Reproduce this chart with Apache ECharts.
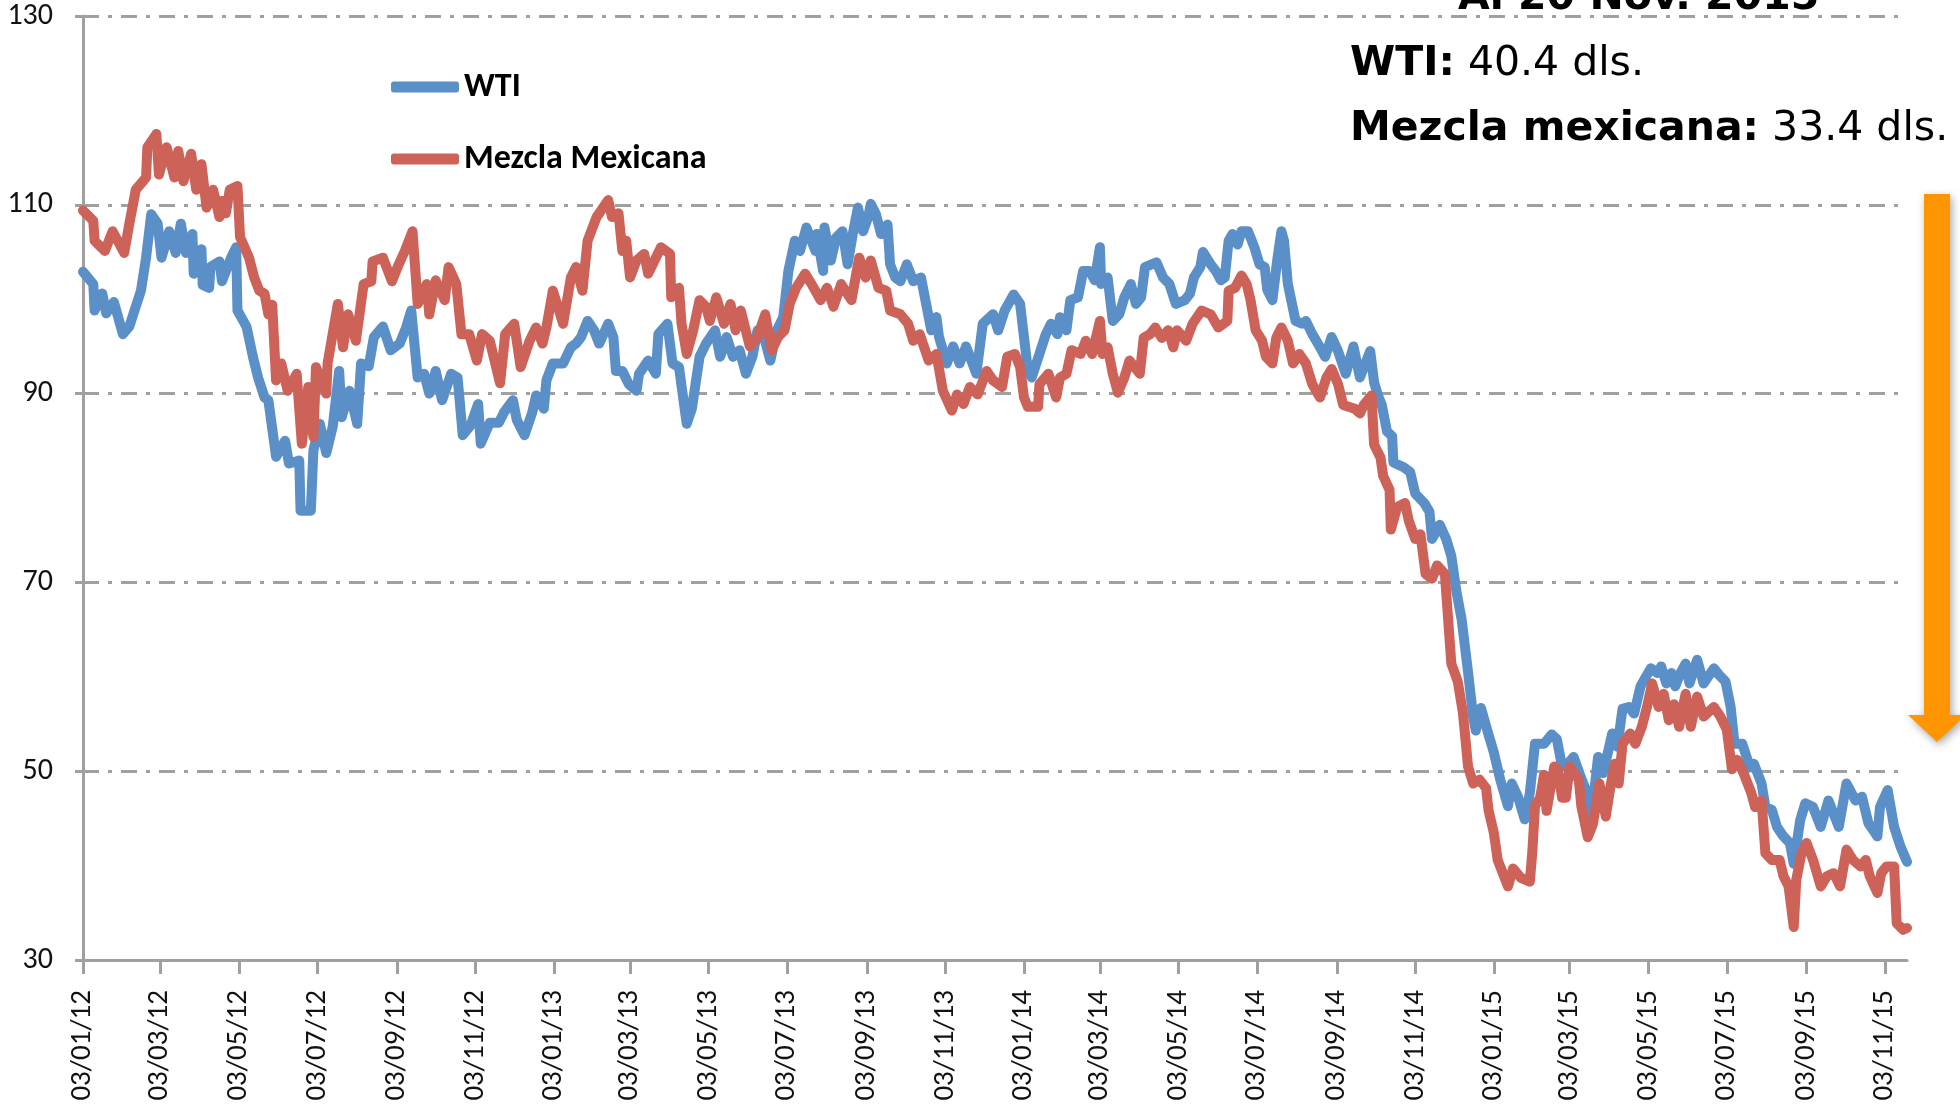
<!DOCTYPE html>
<html>
<head>
<meta charset="utf-8">
<title>WTI y Mezcla Mexicana</title>
<script src="https://cdn.jsdelivr.net/npm/echarts@6/dist/echarts.min.js"></script>
<style>
  html, body { margin: 0; padding: 0; background: #fff; }
  #chart { width: 1960px; height: 1115px; }
</style>
</head>
<body>
<div id="chart"></div>
<script>
// tick marks on the date axis (every two months, day 03)
var tickDates = ['2012-01-03', '2012-03-03', '2012-05-03', '2012-07-03', '2012-09-03', '2012-11-03',
  '2013-01-03', '2013-03-03', '2013-05-03', '2013-07-03', '2013-09-03', '2013-11-03',
  '2014-01-03', '2014-03-03', '2014-05-03', '2014-07-03', '2014-09-03', '2014-11-03',
  '2015-01-03', '2015-03-03', '2015-05-03', '2015-07-03', '2015-09-03', '2015-11-03']
var yTicks = [30, 50, 70, 90, 110, 130]

// WTI (dls. por barril)
var wtiDates = ['2012-01-03', '2012-01-11', '2012-01-12', '2012-01-18', '2012-01-21', '2012-01-27', '2012-02-03', '2012-02-08',
  '2012-02-12', '2012-02-17', '2012-02-21', '2012-02-25', '2012-03-01', '2012-03-04', '2012-03-10', '2012-03-15', '2012-03-19',
  '2012-03-23', '2012-03-28', '2012-03-29', '2012-04-04', '2012-04-05', '2012-04-10', '2012-04-11', '2012-04-18', '2012-04-20',
  '2012-04-27', '2012-05-01', '2012-05-02', '2012-05-09', '2012-05-14', '2012-05-18', '2012-05-23', '2012-05-26', '2012-06-01',
  '2012-06-08', '2012-06-11', '2012-06-19', '2012-06-20', '2012-06-28', '2012-06-30', '2012-07-05', '2012-07-10', '2012-07-15',
  '2012-07-20', '2012-07-22', '2012-07-28', '2012-08-03', '2012-08-06', '2012-08-12', '2012-08-16', '2012-08-23', '2012-08-29',
  '2012-09-05', '2012-09-10', '2012-09-14', '2012-09-19', '2012-09-24', '2012-09-28', '2012-10-03', '2012-10-08', '2012-10-15',
  '2012-10-20', '2012-10-24', '2012-10-30', '2012-11-05', '2012-11-07', '2012-11-14', '2012-11-21', '2012-11-25', '2012-12-02',
  '2012-12-05', '2012-12-11', '2012-12-17', '2012-12-20', '2012-12-26', '2012-12-28',
  '2013-01-02', '2013-01-10', '2013-01-16', '2013-01-20', '2013-01-24', '2013-01-29', '2013-02-03', '2013-02-07', '2013-02-14',
  '2013-02-18', '2013-02-20', '2013-02-25', '2013-03-02', '2013-03-08', '2013-03-10', '2013-03-17', '2013-03-23', '2013-03-25',
  '2013-04-01', '2013-04-05', '2013-04-10', '2013-04-16', '2013-04-20', '2013-04-26', '2013-05-01', '2013-05-08', '2013-05-12',
  '2013-05-17', '2013-05-22', '2013-05-27', '2013-06-01', '2013-06-06', '2013-06-10', '2013-06-15', '2013-06-20', '2013-06-25',
  '2013-06-30', '2013-07-04', '2013-07-09', '2013-07-13', '2013-07-18', '2013-07-25', '2013-07-26', '2013-07-31', '2013-08-01',
  '2013-08-06', '2013-08-10', '2013-08-15', '2013-08-19', '2013-08-23', '2013-08-27', '2013-08-31', '2013-09-04', '2013-09-06',
  '2013-09-10', '2013-09-14', '2013-09-19', '2013-09-21', '2013-09-25', '2013-09-29', '2013-10-04', '2013-10-09', '2013-10-15',
  '2013-10-19', '2013-10-23', '2013-10-27', '2013-10-29', '2013-11-04', '2013-11-09', '2013-11-14', '2013-11-19', '2013-11-24',
  '2013-11-27', '2013-12-02', '2013-12-10', '2013-12-14', '2013-12-19', '2013-12-26', '2013-12-31',
  '2014-01-06', '2014-01-09', '2014-01-15', '2014-01-20', '2014-01-24', '2014-01-29', '2014-01-31', '2014-02-05', '2014-02-08',
  '2014-02-14', '2014-02-18', '2014-02-23', '2014-02-27', '2014-03-03', '2014-03-04', '2014-03-09', '2014-03-13', '2014-03-18',
  '2014-03-22', '2014-03-27', '2014-03-31', '2014-04-04', '2014-04-07', '2014-04-16', '2014-04-21', '2014-04-26', '2014-05-01',
  '2014-05-08', '2014-05-12', '2014-05-15', '2014-05-20', '2014-05-22', '2014-05-28', '2014-06-01', '2014-06-05', '2014-06-08',
  '2014-06-11', '2014-06-14', '2014-06-18', '2014-06-21', '2014-06-26', '2014-07-01', '2014-07-05', '2014-07-09', '2014-07-11',
  '2014-07-15', '2014-07-19', '2014-07-22', '2014-07-24', '2014-07-27', '2014-08-02', '2014-08-07', '2014-08-10', '2014-08-15',
  '2014-08-21', '2014-08-25', '2014-08-30', '2014-09-04', '2014-09-10', '2014-09-16', '2014-09-21', '2014-09-29', '2014-10-02',
  '2014-10-05', '2014-10-08', '2014-10-12', '2014-10-16', '2014-10-17', '2014-10-25', '2014-10-30', '2014-11-03', '2014-11-10',
  '2014-11-14', '2014-11-16', '2014-11-22', '2014-11-27', '2014-12-01', '2014-12-05', '2014-12-09', '2014-12-14', '2014-12-18',
  '2014-12-20', '2014-12-24', '2014-12-29',
  '2015-01-03', '2015-01-08', '2015-01-14', '2015-01-17', '2015-01-22', '2015-01-27', '2015-01-31', '2015-02-04', '2015-02-11',
  '2015-02-17', '2015-02-21', '2015-02-25', '2015-02-28', '2015-03-06', '2015-03-11', '2015-03-15', '2015-03-18', '2015-03-20',
  '2015-03-25', '2015-03-29', '2015-04-05', '2015-04-09', '2015-04-13', '2015-04-18', '2015-04-22', '2015-04-27', '2015-05-05',
  '2015-05-10', '2015-05-13', '2015-05-17', '2015-05-21', '2015-05-24', '2015-05-28', '2015-06-01', '2015-06-04', '2015-06-10',
  '2015-06-15', '2015-06-23', '2015-06-27', '2015-07-02', '2015-07-06', '2015-07-09', '2015-07-15', '2015-07-21', '2015-07-24',
  '2015-07-30', '2015-08-02', '2015-08-07', '2015-08-11', '2015-08-16', '2015-08-21', '2015-08-24', '2015-08-29', '2015-09-02',
  '2015-09-08', '2015-09-14', '2015-09-20', '2015-09-28', '2015-10-04', '2015-10-11', '2015-10-16', '2015-10-21', '2015-10-28',
  '2015-10-30', '2015-11-05', '2015-11-10', '2015-11-15', '2015-11-20']
var wti = [102.9, 101.6, 98.8, 100.6, 98.5, 99.7, 96.3, 97.1,
  98.8, 100.9, 104.4, 109.0, 108.0, 104.4, 107.2, 104.9, 108.0,
  104.9, 106.9, 102.7, 105.3, 101.5, 101.2, 103.4, 104.0, 101.9,
  104.4, 105.5, 98.8, 97.1, 93.9, 91.7, 89.6, 89.3, 83.3,
  85.0, 82.6, 82.9, 77.6, 77.6, 84.0, 86.8, 83.7, 86.5,
  92.4, 87.5, 90.3, 86.8, 93.2, 92.9, 96.0, 97.1, 94.6,
  95.3, 97.0, 98.8, 91.7, 92.1, 90.0, 92.4, 89.3, 92.1,
  91.7, 85.6, 86.6, 88.9, 84.7, 86.9, 86.9, 88.0, 89.3,
  87.2, 85.6, 88.0, 89.8, 88.4, 91.4,
  93.2, 93.2, 94.9, 95.3, 96.0, 97.7, 96.7, 95.3, 97.4,
  96.0, 92.4, 92.4, 91.0, 90.3, 92.1, 93.5, 92.1, 96.3,
  97.4, 93.2, 92.8, 86.8, 88.4, 93.9, 95.3, 96.7, 93.9,
  96.0, 93.9, 94.6, 92.1, 93.9, 96.7, 96.0, 93.5, 96.7,
  98.1, 103.0, 106.2, 105.1, 107.6, 105.1, 106.9, 103.0, 107.6,
  104.1, 106.5, 107.2, 103.7, 106.9, 109.7, 107.2, 108.7, 110.1,
  109.0, 106.9, 107.9, 103.7, 102.3, 101.9, 103.7, 101.9, 102.3,
  99.5, 96.7, 98.1, 96.0, 93.2, 95.0, 93.2, 95.0, 93.2,
  92.1, 97.4, 98.4, 96.7, 98.8, 100.5, 99.5,
  92.5, 91.7, 94.2, 96.3, 97.4, 96.3, 98.1, 96.7, 99.9,
  100.2, 103.0, 103.0, 102.0, 105.5, 101.6, 102.3, 97.7, 98.4,
  100.2, 101.6, 99.5, 100.2, 103.4, 103.9, 102.3, 101.6, 99.5,
  99.9, 100.6, 102.3, 103.4, 105.0, 103.7, 103.0, 102.0, 102.3,
  106.2, 106.9, 105.8, 107.2, 107.2, 105.5, 103.7, 103.4, 101.0,
  99.9, 104.4, 107.2, 106.2, 101.6, 97.7, 97.4, 97.7, 96.3,
  94.9, 93.9, 96.0, 94.5, 92.1, 95.0, 91.7, 94.5, 91.2,
  89.8, 88.8, 86.0, 85.5, 82.7, 82.2, 81.7, 79.4, 78.4,
  77.5, 74.6, 76.1, 74.6, 72.8, 69.0, 66.1, 60.5, 55.7,
  54.3, 56.7, 54.3,
  52.0, 49.1, 46.3, 48.7, 47.2, 44.9, 47.7, 52.9, 52.9,
  53.9, 53.4, 50.5, 50.5, 51.5, 49.6, 48.2, 46.2, 45.4,
  51.5, 49.8, 54.0, 52.6, 56.6, 56.8, 56.1, 59.0, 60.9,
  60.4, 61.1, 59.3, 60.4, 59.0, 60.4, 61.4, 59.3, 61.8,
  59.3, 60.9, 60.2, 59.5, 56.8, 52.9, 52.9, 50.4, 50.8,
  48.7, 46.2, 45.9, 44.1, 43.1, 42.4, 40.2, 44.8, 46.6,
  46.2, 44.1, 46.9, 44.1, 48.7, 46.9, 47.3, 44.5, 43.1,
  46.2, 48.0, 44.1, 42.0, 40.4]

// Mezcla Mexicana (dls. por barril)
var mezclaDates = ['2012-01-03', '2012-01-11', '2012-01-12', '2012-01-20', '2012-01-26', '2012-02-04', '2012-02-08', '2012-02-13',
  '2012-02-21', '2012-02-22', '2012-02-29', '2012-03-02', '2012-03-08', '2012-03-14', '2012-03-17', '2012-03-21', '2012-03-27',
  '2012-03-31', '2012-04-04', '2012-04-08', '2012-04-13', '2012-04-18', '2012-04-20', '2012-04-23', '2012-04-26', '2012-05-02',
  '2012-05-04', '2012-05-11', '2012-05-15', '2012-05-19', '2012-05-23', '2012-05-26', '2012-05-29', '2012-06-01', '2012-06-05',
  '2012-06-10', '2012-06-17', '2012-06-21', '2012-06-26', '2012-06-30', '2012-07-02', '2012-07-10', '2012-07-11', '2012-07-19',
  '2012-07-23', '2012-07-27', '2012-08-02', '2012-08-08', '2012-08-14', '2012-08-15', '2012-08-23', '2012-08-30', '2012-09-04',
  '2012-09-09', '2012-09-15', '2012-09-19', '2012-09-26', '2012-09-28', '2012-10-03', '2012-10-10', '2012-10-13', '2012-10-19',
  '2012-10-23', '2012-10-29', '2012-11-04', '2012-11-08', '2012-11-14', '2012-11-22', '2012-11-26', '2012-12-03', '2012-12-08',
  '2012-12-15', '2012-12-20', '2012-12-25', '2012-12-28',
  '2013-01-02', '2013-01-10', '2013-01-16', '2013-01-20', '2013-01-25', '2013-01-29', '2013-02-05', '2013-02-14', '2013-02-17',
  '2013-02-22', '2013-02-25', '2013-02-28', '2013-03-03', '2013-03-08', '2013-03-14', '2013-03-17', '2013-03-22', '2013-03-27',
  '2013-04-03', '2013-04-04', '2013-04-10', '2013-04-12', '2013-04-16', '2013-04-21', '2013-04-26', '2013-05-01', '2013-05-04',
  '2013-05-09', '2013-05-15', '2013-05-20', '2013-05-24', '2013-05-28', '2013-06-04', '2013-06-10', '2013-06-16', '2013-06-21',
  '2013-06-26', '2013-07-01', '2013-07-05', '2013-07-10', '2013-07-17', '2013-07-22', '2013-07-29', '2013-08-03', '2013-08-08',
  '2013-08-14', '2013-08-22', '2013-08-28', '2013-09-02', '2013-09-06', '2013-09-12', '2013-09-18', '2013-09-21', '2013-09-29',
  '2013-10-05', '2013-10-09', '2013-10-14', '2013-10-21', '2013-10-27', '2013-11-01', '2013-11-08', '2013-11-12', '2013-11-17',
  '2013-11-22', '2013-11-28', '2013-12-05', '2013-12-10', '2013-12-17', '2013-12-21', '2013-12-27', '2013-12-31',
  '2014-01-03', '2014-01-06', '2014-01-14', '2014-01-15', '2014-01-22', '2014-01-28', '2014-01-31', '2014-02-05', '2014-02-09',
  '2014-02-16', '2014-02-20', '2014-02-25', '2014-03-03', '2014-03-05', '2014-03-09', '2014-03-13', '2014-03-17', '2014-03-22',
  '2014-03-26', '2014-04-03', '2014-04-06', '2014-04-11', '2014-04-15', '2014-04-20', '2014-04-25', '2014-04-29', '2014-05-02',
  '2014-05-09', '2014-05-14', '2014-05-21', '2014-05-28', '2014-06-03', '2014-06-10', '2014-06-11', '2014-06-16', '2014-06-21',
  '2014-06-25', '2014-06-28', '2014-07-02', '2014-07-07', '2014-07-10', '2014-07-15', '2014-07-18', '2014-07-22', '2014-07-27',
  '2014-07-31', '2014-08-05', '2014-08-10', '2014-08-15', '2014-08-21', '2014-08-26', '2014-08-30', '2014-09-04', '2014-09-08',
  '2014-09-17', '2014-09-21', '2014-09-24', '2014-09-30', '2014-10-02', '2014-10-07', '2014-10-09', '2014-10-14', '2014-10-15',
  '2014-10-20', '2014-10-26', '2014-10-29', '2014-11-03', '2014-11-07', '2014-11-11', '2014-11-16', '2014-11-20', '2014-11-26',
  '2014-11-28', '2014-12-01', '2014-12-06', '2014-12-10', '2014-12-14', '2014-12-18', '2014-12-23', '2014-12-28', '2014-12-30',
  '2015-01-03', '2015-01-06', '2015-01-10', '2015-01-14', '2015-01-18', '2015-01-24', '2015-01-31', '2015-02-02', '2015-02-04',
  '2015-02-08', '2015-02-11', '2015-02-13', '2015-02-19', '2015-02-22', '2015-02-25', '2015-02-28', '2015-03-03', '2015-03-10',
  '2015-03-12', '2015-03-17', '2015-03-21', '2015-03-26', '2015-03-31', '2015-04-04', '2015-04-07', '2015-04-10', '2015-04-13',
  '2015-04-19', '2015-04-23', '2015-04-28', '2015-05-02', '2015-05-06', '2015-05-11', '2015-05-15', '2015-05-19', '2015-05-23',
  '2015-05-27', '2015-06-01', '2015-06-05', '2015-06-10', '2015-06-15', '2015-06-23', '2015-06-28', '2015-07-03', '2015-07-07',
  '2015-07-11', '2015-07-16', '2015-07-22', '2015-07-25', '2015-07-30', '2015-08-02', '2015-08-07', '2015-08-13', '2015-08-16',
  '2015-08-20', '2015-08-24', '2015-08-26', '2015-08-30', '2015-09-03', '2015-09-08', '2015-09-14', '2015-09-19', '2015-09-24',
  '2015-09-29', '2015-10-04', '2015-10-09', '2015-10-15', '2015-10-19', '2015-10-22', '2015-10-28', '2015-10-31', '2015-11-04',
  '2015-11-10', '2015-11-12', '2015-11-17', '2015-11-20']
var mezcla = [109.4, 108.3, 106.2, 105.1, 107.2, 104.9, 108.0, 111.6,
  112.9, 116.1, 117.5, 113.2, 116.1, 112.9, 115.7, 112.5, 115.4,
  111.6, 114.3, 109.7, 111.6, 108.7, 110.4, 109.1, 111.6, 112.0,
  106.6, 104.4, 102.3, 100.9, 100.6, 98.4, 99.4, 91.4, 93.2,
  90.3, 92.1, 84.7, 90.7, 85.4, 92.8, 90.0, 93.2, 99.5,
  94.9, 98.4, 95.6, 101.6, 101.9, 104.0, 104.4, 101.9, 103.6,
  105.1, 107.2, 99.5, 101.6, 98.4, 102.0, 99.9, 103.4, 101.6,
  96.3, 96.3, 93.5, 96.3, 95.6, 91.1, 96.3, 97.4, 92.8,
  95.6, 97.0, 95.3, 97.0,
  100.9, 97.4, 102.3, 103.4, 100.9, 106.2, 108.7, 110.5, 108.7,
  109.1, 105.1, 106.2, 102.3, 104.1, 104.8, 102.7, 104.1, 105.5,
  104.8, 100.2, 101.2, 97.4, 94.2, 96.7, 99.9, 99.2, 97.7,
  100.2, 97.4, 99.5, 96.7, 98.8, 95.0, 96.0, 98.4, 94.6,
  96.0, 96.7, 99.5, 101.2, 102.7, 101.6, 99.9, 101.2, 99.2,
  101.6, 99.9, 104.4, 102.3, 104.1, 101.2, 100.9, 98.8, 98.4,
  97.4, 95.6, 96.3, 93.5, 94.2, 90.3, 88.2, 89.9, 88.9,
  90.7, 89.9, 92.4, 91.4, 90.7, 93.9, 94.2, 92.8,
  89.6, 88.6, 88.6, 91.0, 92.1, 89.6, 91.7, 92.1, 94.6,
  94.2, 95.6, 94.2, 97.7, 94.2, 94.9, 92.1, 90.1, 91.7,
  93.5, 92.1, 95.9, 96.3, 97.0, 95.9, 96.7, 94.9, 96.7,
  95.6, 97.4, 98.8, 98.4, 97.0, 97.7, 100.9, 101.2, 102.5,
  101.6, 99.9, 96.7, 95.6, 93.9, 93.2, 95.9, 97.0, 95.6,
  93.2, 94.2, 93.2, 91.0, 89.6, 91.7, 92.6, 91.0, 88.8,
  88.4, 87.9, 88.8, 89.8, 84.6, 83.2, 81.3, 79.8, 75.6,
  78.0, 78.4, 76.5, 74.6, 75.1, 70.9, 70.4, 71.8, 70.9,
  67.1, 61.4, 59.5, 56.2, 50.5, 48.7, 49.1, 48.2, 45.8,
  43.5, 40.6, 39.2, 37.8, 39.7, 38.7, 38.3, 41.6, 46.3,
  47.2, 49.6, 45.8, 50.5, 50.1, 47.2, 47.2, 50.5, 49.1,
  46.3, 43.0, 44.4, 48.7, 45.2, 48.7, 50.8, 48.7, 52.9,
  54.0, 52.9, 54.7, 56.8, 59.3, 56.8, 58.2, 55.4, 57.1,
  54.7, 58.2, 54.7, 57.9, 55.8, 56.8, 55.8, 54.4, 50.2,
  51.2, 49.8, 47.7, 46.2, 46.9, 41.3, 40.6, 40.6, 38.9,
  37.8, 33.5, 38.5, 41.3, 42.4, 40.6, 37.8, 38.9, 39.2,
  37.8, 41.7, 40.6, 39.9, 40.6, 38.9, 37.1, 39.2, 39.9,
  39.9, 33.9, 33.2, 33.4]

var FONT = 'Carlito, Lato, "Liberation Sans", sans-serif'
var NOTE_FONT = '"DejaVu Sans", "Noto Sans", sans-serif'

function toTime(s) {
  var p = s.split('-')
  return new Date(+p[0], +p[1] - 1, +p[2]).getTime()
}
function pad(n) {
  return n < 10 ? '0' + n : '' + n
}
function zip(dates, values) {
  return dates.map(function (d, i) { return [toTime(d), values[i]] })
}

var chart = echarts.init(document.getElementById('chart'), null, { renderer: 'canvas' })
var tickTimes = tickDates.map(toTime)

// the date axis is a value axis in milliseconds, so the ticks can sit on the 3rd of every other month
var option = {
  animation: false,
  backgroundColor: '#ffffff',
  grid: {
    left: 83,
    right: 53,
    top: 16,
    bottom: 155,
    containLabel: false,
    outerBoundsMode: 'none'
  },
  legend: {
    orient: 'vertical',
    left: 391,
    top: 70,
    padding: 0,
    itemWidth: 68,
    itemHeight: 11,
    itemGap: 38,
    icon: 'roundRect',
    textStyle: { fontFamily: FONT, fontSize: 34, fontWeight: 'bold', color: '#000' },
    data: ['WTI', 'Mezcla Mexicana']
  },
  xAxis: {
    type: 'value',
    min: toTime('2012-01-03'),
    max: toTime('2015-11-20'),
    axisLine: { show: true, lineStyle: { color: '#a0a0a0', width: 3 } },
    axisTick: {
      show: true,
      customValues: tickTimes,
      length: 14,
      lineStyle: { color: '#a0a0a0', width: 3 }
    },
    axisLabel: {
      customValues: tickTimes,
      rotate: 90,
      margin: 30,
      fontFamily: FONT,
      fontSize: 29,
      color: '#111',
      formatter: function (v) {
        var d = new Date(v)
        return pad(d.getDate()) + '/' + pad(d.getMonth() + 1) + '/' + pad(d.getFullYear() % 100)
      }
    },
    splitLine: { show: false }
  },
  yAxis: {
    type: 'value',
    min: yTicks[0],
    max: yTicks[yTicks.length - 1],
    interval: 20,
    axisLine: { show: true, lineStyle: { color: '#a0a0a0', width: 3 } },
    axisTick: { show: true, length: 8, lineStyle: { color: '#a0a0a0', width: 3 } },
    axisLabel: { fontFamily: FONT, fontSize: 30, color: '#111', margin: 30 },
    splitLine: {
      show: true,
      showMinLine: false,
      lineStyle: { color: '#a0a0a0', width: 3, type: [16, 9, 4, 9] }
    }
  },
  series: [
    {
      name: 'WTI',
      type: 'line',
      data: zip(wtiDates, wti),
      showSymbol: false,
      symbol: 'none',
      color: '#5b8fc8',
      lineStyle: { width: 10, color: '#5b8fc8', cap: 'round', join: 'round' }
    },
    {
      name: 'Mezcla Mexicana',
      type: 'line',
      data: zip(mezclaDates, mezcla),
      showSymbol: false,
      symbol: 'none',
      color: '#cd6259',
      lineStyle: { width: 10, color: '#cd6259', cap: 'round', join: 'round' }
    }
  ],
  graphic: [
    {
      type: 'text',
      left: 1458,
      top: -22,
      z: 100,
      style: {
        text: 'Al 20 Nov. 2015',
        font: 'bold 41px ' + NOTE_FONT,
        fill: '#000'
      }
    },
    {
      type: 'text',
      left: 1350,
      top: 44,
      z: 100,
      style: {
        text: '{b|WTI:}{r| 40.4 dls.}',
        rich: {
          b: { font: 'bold 41px ' + NOTE_FONT, fill: '#000' },
          r: { font: '41px ' + NOTE_FONT, fill: '#000' }
        }
      }
    },
    {
      type: 'text',
      left: 1350,
      top: 109,
      z: 100,
      style: {
        text: '{b|Mezcla mexicana:}{r| 33.4 dls.}',
        rich: {
          b: { font: 'bold 41px ' + NOTE_FONT, fill: '#000' },
          r: { font: '41px ' + NOTE_FONT, fill: '#000' }
        }
      }
    },
    {
      // orange arrow down the right edge
      type: 'polygon',
      z: 100,
      shape: {
        points: [[1924, 194], [1950, 194], [1950, 715], [1966, 715], [1937, 742], [1908, 715], [1924, 715]]
      },
      style: {
        fill: '#ff9500',
        shadowBlur: 8,
        shadowColor: 'rgba(0,0,0,0.35)',
        shadowOffsetX: 2,
        shadowOffsetY: 3
      }
    }
  ]
}

chart.setOption(option)
</script>
</body>
</html>
